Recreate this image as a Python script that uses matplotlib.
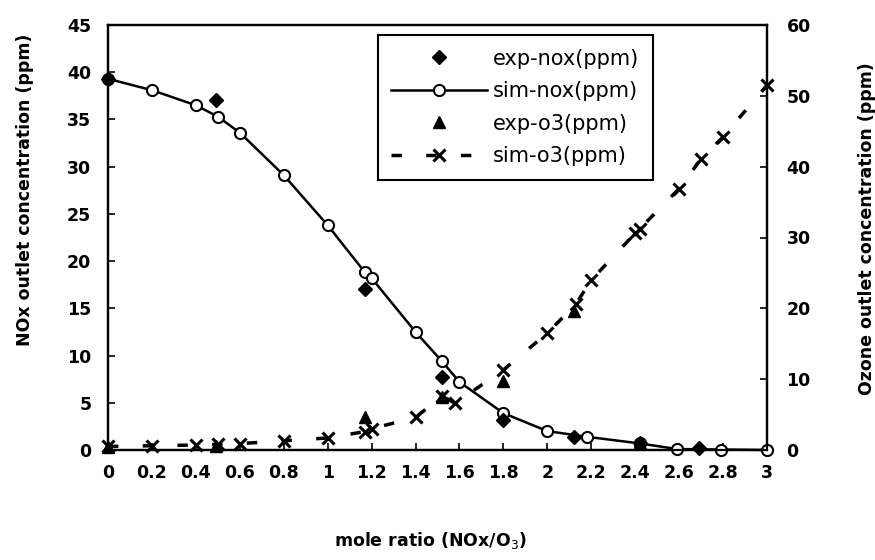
import matplotlib
matplotlib.use("Agg")
import matplotlib.pyplot as plt

# --- data ---
# NOx, simulated (open circles, solid line) - left axis
sim_nox_x = [0, 0.2, 0.4, 0.5, 0.6, 0.8, 1.0, 1.17, 1.2, 1.4, 1.52, 1.6, 1.8, 2.0, 2.18, 2.42, 2.59, 2.79, 3.0]
sim_nox_y = [39.3, 38.1, 36.5, 35.3, 33.6, 29.1, 23.8, 18.8, 18.2, 12.5, 9.4, 7.2, 3.9, 2.0, 1.4, 0.7, 0.1, 0.05, 0.0]

# NOx, experiment (filled diamonds) - left axis
exp_nox_x = [0, 0.49, 1.17, 1.52, 1.8, 2.12, 2.42, 2.69]
exp_nox_y = [39.3, 37.1, 17.1, 7.7, 3.2, 1.4, 0.7, 0.2]

# O3, experiment (filled triangles) - right axis
exp_o3_x = [0, 0.49, 1.17, 1.52, 1.8, 2.12, 2.42]
exp_o3_y = [0.4, 0.5, 4.6, 7.5, 9.8, 19.6, 1.0]

# O3, simulated (x markers, dashed line) - right axis
sim_o3_x = [0, 0.2, 0.4, 0.5, 0.6, 0.8, 1.0, 1.17, 1.2, 1.4, 1.52, 1.58, 1.8, 2.0, 2.13, 2.2, 2.4, 2.42, 2.6, 2.7, 2.8, 3.0]
sim_o3_y = [0.5, 0.6, 0.7, 0.8, 0.9, 1.3, 1.7, 2.6, 3.0, 4.6, 7.6, 6.6, 11.3, 16.5, 20.6, 24.0, 30.6, 31.2, 36.9, 41.1, 44.2, 51.5]

x_ticks = [0, 0.2, 0.4, 0.6, 0.8, 1.0, 1.2, 1.4, 1.6, 1.8, 2.0, 2.2, 2.4, 2.6, 2.8, 3.0]
x_tick_labels = ["0", "0.2", "0.4", "0.6", "0.8", "1", "1.2", "1.4", "1.6", "1.8",
                 "2", "2.2", "2.4", "2.6", "2.8", "3"]
left_ticks = [0, 5, 10, 15, 20, 25, 30, 35, 40, 45]
right_ticks = [0, 10, 20, 30, 40, 50, 60]

plt.rcParams['font.family'] = ['DejaVu Sans']

fig = plt.figure(figsize=(8.75, 5.6), dpi=100)
ax = fig.add_axes([108 / 875, 1 - 450 / 560, 659 / 875, 425 / 560])
ax2 = ax.twinx()

h1, = ax.plot(exp_nox_x, exp_nox_y, linestyle='none', marker='D', ms=7,
              color='black', clip_on=False, zorder=4, label='exp-nox(ppm)')
h2, = ax.plot(sim_nox_x, sim_nox_y, linestyle='-', lw=1.8, marker='o', ms=8,
              mfc='white', mec='black', mew=1.5, color='black', clip_on=False,
              zorder=3, label='sim-nox(ppm)')
h3, = ax2.plot(exp_o3_x, exp_o3_y, linestyle='none', marker='^', ms=9,
               color='black', clip_on=False, zorder=4, label='exp-o3(ppm)')
h4, = ax2.plot(sim_o3_x, sim_o3_y, linestyle=(0, (3, 7)), lw=2.5, marker='x', ms=9,
               mew=2.2, color='black', clip_on=False, zorder=3, label='sim-o3(ppm)')

ax.set_xlim(0, 3)
ax.set_ylim(0, 45)
ax2.set_ylim(0, 60)

ax.set_xticks(x_ticks)
ax.set_xticklabels(x_tick_labels)
ax.set_yticks(left_ticks)
ax2.set_yticks(right_ticks)

ax.tick_params(axis='x', direction='in', length=5, width=1.2, labelsize=12.5, pad=10)
ax.tick_params(axis='y', direction='in', length=5, width=1.2, labelsize=12.5, pad=12)
ax2.tick_params(axis='y', direction='in', length=5, width=1.2, labelsize=12.5, pad=14)
for lbl in ax.get_xticklabels() + ax.get_yticklabels() + ax2.get_yticklabels():
    lbl.set_fontweight('bold')

for a in (ax, ax2):
    for s in a.spines.values():
        s.set_linewidth(1.6)
        s.set_color('black')

ax.set_ylabel("NOx outlet concentration (ppm)", fontsize=12.5, fontweight='bold',
              va='center')
ax.yaxis.set_label_coords(-0.126, 0.612)
ax2.set_ylabel("Ozone outlet concentration (ppm)", fontsize=12.5, fontweight='bold',
               va='center')
ax2.yaxis.set_label_coords(1.152, 0.522)
ax.set_xlabel("mole ratio (NOx/O$_3$)", fontsize=12.5, fontweight='bold', va='center')
ax.xaxis.set_label_coords(0.489, -0.212)

leg = ax2.legend(handles=[h1, h2, h3, h4], loc='upper right',
                 bbox_to_anchor=(0.827, 0.976), borderaxespad=0, fontsize=15,
                 numpoints=1, handlelength=4.6, handletextpad=0.3,
                 labelspacing=0.6, borderpad=0.65,
                 fancybox=False, framealpha=1, edgecolor='black')
leg.get_frame().set_linewidth(1.5)

fig.savefig("out.png", dpi=100)
